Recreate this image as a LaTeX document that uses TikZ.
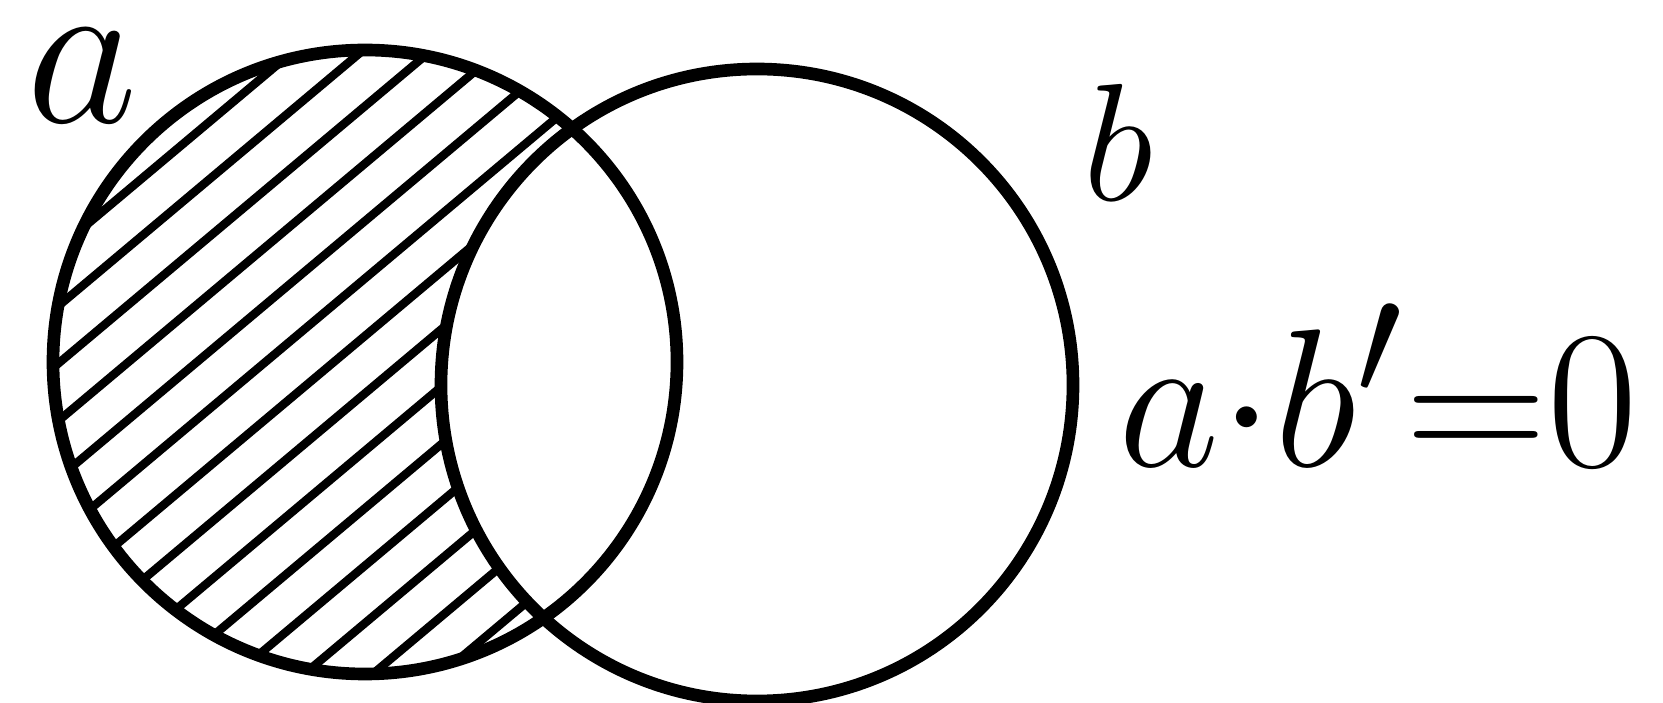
\documentclass[tikz,border=0pt]{standalone}
\tikzset{lbl/.style={inner sep=0pt, anchor=base, font=\Huge, scale=2.25}}
\begin{document}
\begin{tikzpicture}[x=0.01cm, y=0.01cm, line width=3.6pt]
    \useasboundingbox (0,0) rectangle (1663,703);
    \coordinate (ca) at (365,341);
    \coordinate (cb) at (757,318);
    \begin{scope}
        \clip (ca) circle (312);
        \foreach \c in {-420,-376,...,420}
            \draw[line width=2.4pt, rotate around={40:(365,341)}] (-35,341+\c) -- (765,341+\c);
    \end{scope}
    \fill[white] (cb) circle (316);
    \draw (ca) circle (312);
    \draw (cb) circle (316);
    \node[lbl, scale=1.1] (la) at (82,580) {$a$};
    \node[lbl, scale=0.85] (lb) at (1118,502) {$b$};
    \node[lbl] (eq) at (1378,236) {$a{\cdot}b'{=}0$};
\end{tikzpicture}
\end{document}
